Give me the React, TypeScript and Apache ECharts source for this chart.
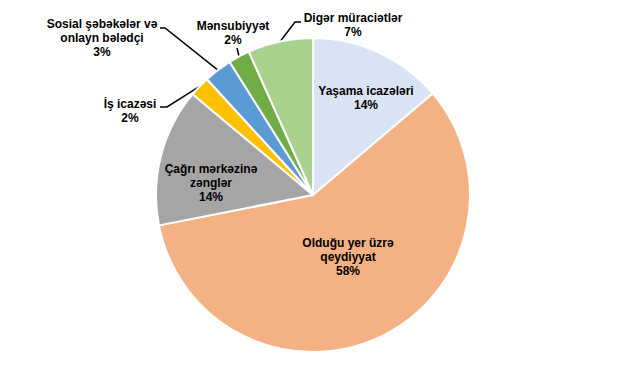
import React, { useEffect, useRef } from "react";
import * as echarts from "echarts";

const categories = [
  "Yaşama icazələri",
  "Olduğu yer üzrə\nqeydiyyat",
  "Çağrı mərkəzinə\nzənglər",
  "İş icazəsi",
  "Sosial şəbəkələr və\nonlayn bələdçi",
  "Mənsubiyyət",
  "Digər müraciətlər",
];
const values = [13.8, 58.1, 14.2, 2.1, 2.9, 2.2, 6.7];
const colors = ["#DAE3F3", "#F4B183", "#A5A5A5", "#FFC000", "#5B9BD5", "#70AD47", "#A9D18E"];

const CENTER = [313, 195];
const RADIUS = 157;

// label centres (layout only)
const labelPos: Record<number, [number, number]> = {
  0: [366, 98],
  1: [348, 257],
  2: [211, 183],
  3: [130, 111],
  4: [102, 38],
  5: [233, 33],
  6: [353, 25],
};
// leader line elbows for outside labels
const elbows: Record<number, [number, number][]> = {
  3: [[167, 107], [160, 107]],
  4: [[165, 28], [160, 28]],
  5: [[237, 48]],
  6: [[295, 22], [301, 22]],
};

export default function App() {
  const ref = useRef<HTMLDivElement>(null);
  useEffect(() => {
    document.body.style.margin = "0";
    const chart = echarts.init(ref.current!, null, { renderer: "svg" });
    const total = values.reduce((a, b) => a + b, 0);
    const mids: number[] = [];
    let acc = 0;
    values.forEach((v) => {
      mids.push(((acc + v / 2) / total) * Math.PI * 2);
      acc += v;
    });
    chart.setOption({
      animation: false,
      backgroundColor: "#fff",
      series: [
        {
          type: "pie",
          center: CENTER,
          radius: RADIUS,
          startAngle: 90,
          clockwise: true,
          avoidLabelOverlap: false,
          itemStyle: { borderColor: "#fff", borderWidth: 2 },
          label: {
            formatter: (p: any) => `${p.name}\n${Math.round(p.percent)}%`,
            fontFamily: "Liberation Sans, Arial, sans-serif",
            fontWeight: "bold",
            fontSize: 12,
            lineHeight: 14,
            color: "#000",
            align: "center",
          },
          labelLine: { lineStyle: { color: "#000", width: 1.5 } },
          labelLayout: (params: any) => {
            const i = params.dataIndex;
            const [x, y] = labelPos[i];
            const res: any = { x, y, align: "center", verticalAlign: "middle" };
            if (elbows[i]) {
              const a = mids[i];
              const start = [CENTER[0] + RADIUS * Math.sin(a), CENTER[1] - RADIUS * Math.cos(a)];
              res.labelLinePoints = [start, ...elbows[i]];
            }
            return res;
          },
          data: categories.map((name, i) => ({
            name,
            value: values[i],
            itemStyle: { color: colors[i] },
            label: { position: elbows[i] ? "outside" : "inside" },
            labelLine: { show: !!elbows[i] },
          })),
        },
      ],
    });
    return () => chart.dispose();
  }, []);
  return <div ref={ref} style={{ width: 621, height: 382 }} />;
}
